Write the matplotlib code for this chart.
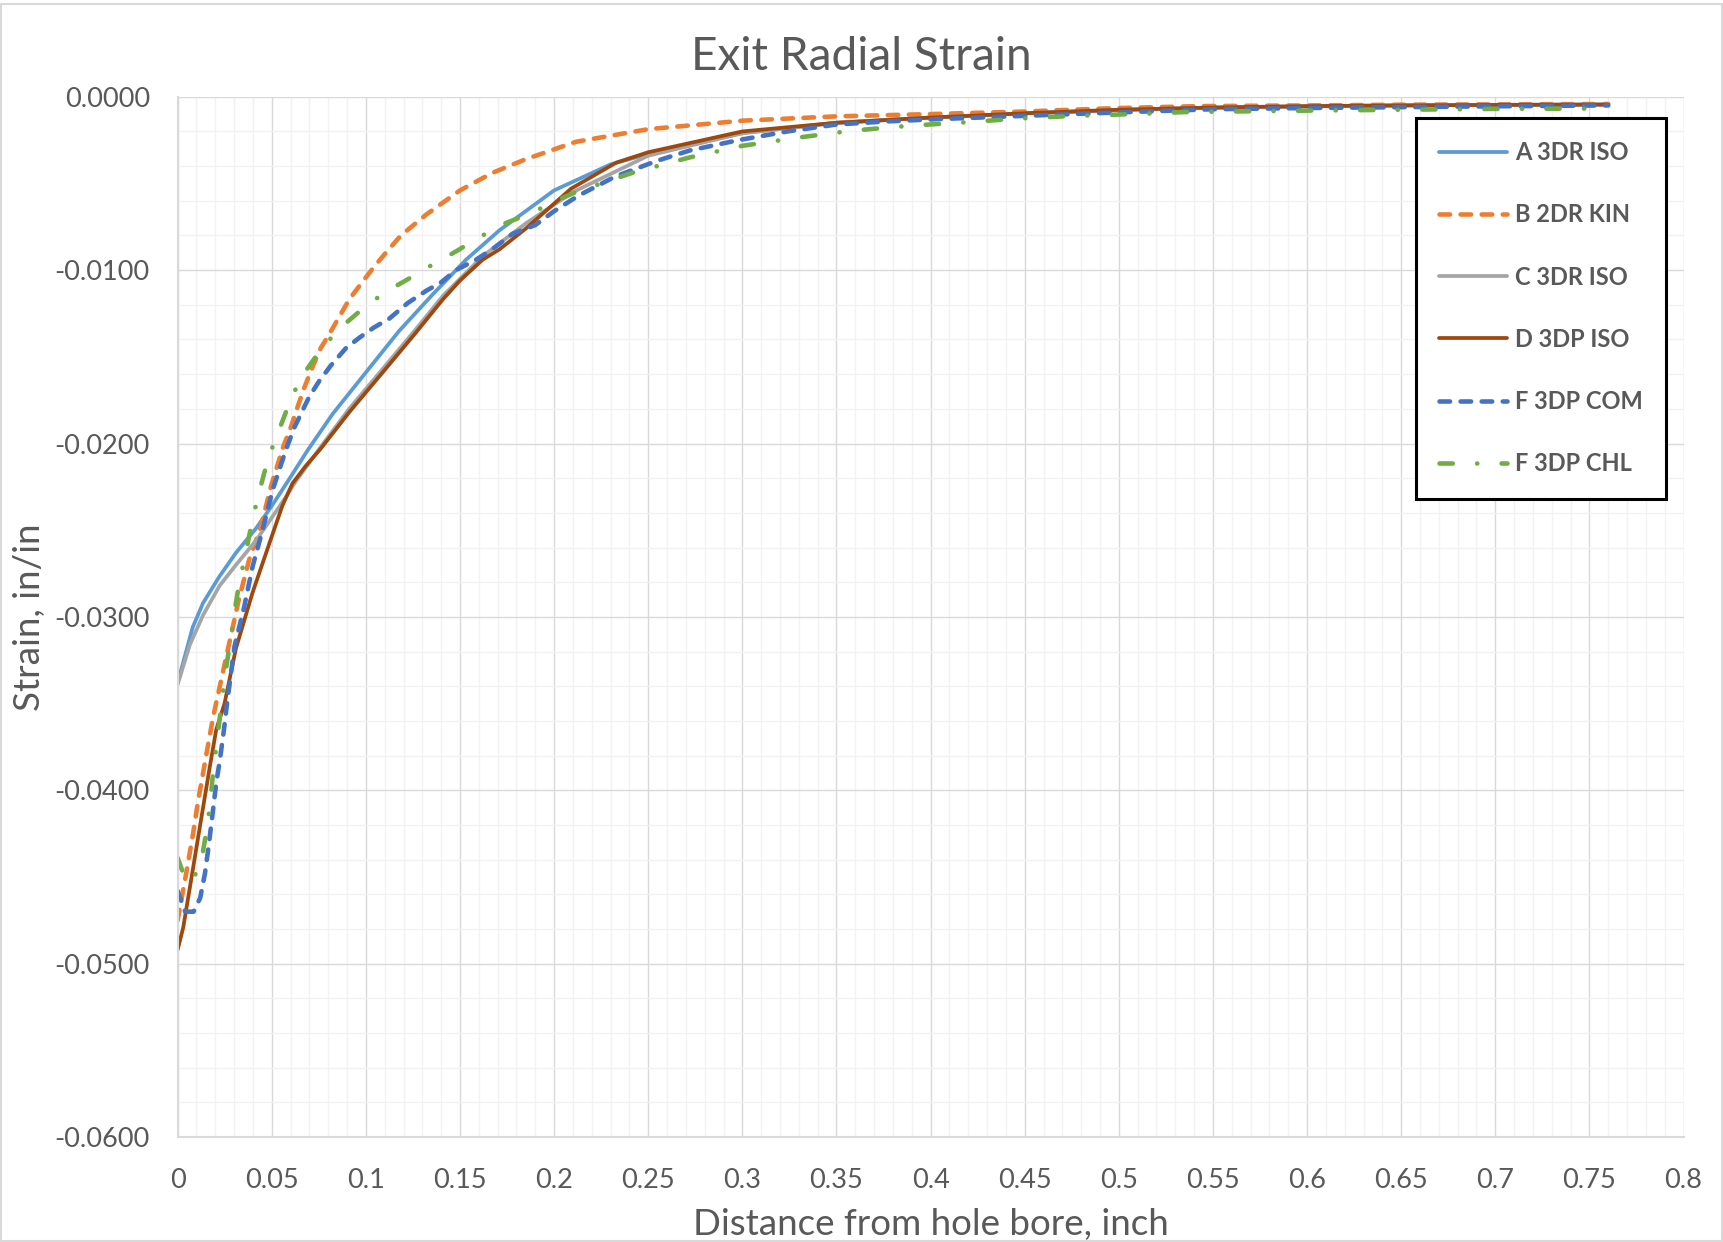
import matplotlib
matplotlib.use("Agg")
import matplotlib.pyplot as plt
from matplotlib.ticker import MultipleLocator, FormatStrFormatter, FuncFormatter
from matplotlib.patches import Rectangle

plt.rcParams["font.family"] = ["Lato", "DejaVu Sans"]
plt.rcParams["axes.unicode_minus"] = False

# values
tail_x = [0.35, 0.4, 0.45, 0.5, 0.55, 0.6, 0.65, 0.7, 0.76]

a_x = [0, 0.003, 0.008, 0.0135, 0.022, 0.031, 0.0416, 0.05, 0.059, 0.069,
       0.0823, 0.1, 0.1177, 0.1355, 0.1532, 0.171, 0.2, 0.23, 0.25, 0.3] + tail_x
a_y = [-0.0338, -0.0326, -0.0306, -0.0292, -0.0277, -0.0263, -0.0249, -0.0236,
       -0.0221, -0.0204, -0.0183, -0.0159, -0.0135, -0.0114, -0.0094, -0.0077,
       -0.0054, -0.0039, -0.0033, -0.0021,
       -0.0015, -0.0012, -0.00096, -0.00077, -0.00064, -0.00056, -0.0005,
       -0.00047, -0.00045]

b_x = [0, 0.002, 0.0042, 0.0082, 0.0109, 0.0132, 0.0153, 0.0188, 0.0232,
       0.0325, 0.038, 0.0442, 0.0495, 0.0557, 0.06, 0.0637, 0.0672, 0.0716,
       0.076, 0.0805, 0.0858, 0.0911, 0.0973, 0.1044, 0.1106, 0.1186, 0.132,
       0.15, 0.167, 0.185, 0.2115, 0.25, 0.3, 0.35, 0.4, 0.45, 0.5, 0.543,
       0.6, 0.65, 0.7, 0.76]
b_y = [-0.0475, -0.0463, -0.045, -0.0425, -0.0406, -0.0392, -0.0379, -0.0358,
       -0.0336, -0.029, -0.0267, -0.0248, -0.0225, -0.0203, -0.0191, -0.0179,
       -0.0168, -0.0156, -0.0145, -0.0137, -0.0127, -0.0117, -0.0108, -0.0098,
       -0.009, -0.008, -0.0068, -0.0054, -0.0044, -0.0036, -0.0026, -0.00187,
       -0.00138, -0.00113, -0.001, -0.00085, -0.00065, -0.00054, -0.0005,
       -0.00046, -0.00044, -0.00042]

c_x = [0, 0.0065, 0.0135, 0.0223, 0.031, 0.0416, 0.0486, 0.0574, 0.0626,
       0.076, 0.0911, 0.1089, 0.1266, 0.1408, 0.15, 0.162, 0.185, 0.21, 0.25,
       0.3] + tail_x
c_y = [-0.0339, -0.0316, -0.0299, -0.0282, -0.027, -0.0256, -0.0245, -0.0231,
       -0.0222, -0.0202, -0.018, -0.0157, -0.0134, -0.0115, -0.0105, -0.0092,
       -0.0073, -0.0055, -0.0034, -0.0021,
       -0.0015, -0.0012, -0.00095, -0.00076, -0.00063, -0.00055, -0.0005,
       -0.00047, -0.00045]

d_x = [0, 0.003, 0.0065, 0.01, 0.0135, 0.017, 0.0205, 0.0249, 0.031, 0.0398,
       0.0486, 0.0556, 0.061, 0.068, 0.076, 0.0911, 0.1089, 0.1266, 0.1408,
       0.15, 0.162, 0.171, 0.185, 0.209, 0.233, 0.25, 0.3] + tail_x
d_y = [-0.0492, -0.0479, -0.0456, -0.0433, -0.041, -0.0387, -0.0365, -0.035,
       -0.0318, -0.0286, -0.0258, -0.0236, -0.0223, -0.0213, -0.0203, -0.0182,
       -0.0159, -0.0136, -0.0117, -0.0106, -0.0094, -0.0088, -0.0076, -0.0053,
       -0.0038, -0.0032, -0.002,
       -0.0015, -0.0012, -0.00095, -0.00075, -0.00062, -0.00054, -0.0005,
       -0.00047, -0.00045]

com_x = [0, 0.004, 0.0085, 0.012, 0.0145, 0.0165, 0.0185, 0.0205, 0.0225,
         0.0245, 0.026, 0.0302, 0.0354, 0.0398, 0.0451, 0.0504, 0.0574, 0.0619,
         0.0699, 0.0752, 0.0814, 0.0894, 0.0965, 0.1044, 0.1124, 0.1222,
         0.1319, 0.14, 0.1479, 0.1585, 0.1683, 0.178, 0.19, 0.2, 0.213, 0.2325,
         0.2545, 0.272, 0.298, 0.324, 0.35, 0.377, 0.404, 0.45, 0.5, 0.55, 0.6,
         0.65, 0.7, 0.76]
com_y = [-0.0458, -0.047, -0.047, -0.0462, -0.0448, -0.0432, -0.0414, -0.0396,
         -0.0382, -0.0366, -0.0352, -0.0317, -0.0294, -0.0271, -0.025, -0.0227,
         -0.0204, -0.0191, -0.0173, -0.0164, -0.0155, -0.0145, -0.0139,
         -0.0133, -0.0128, -0.0119, -0.0112, -0.0107, -0.01, -0.0094, -0.0087,
         -0.0079, -0.0074, -0.0066, -0.0057, -0.0046, -0.0037, -0.0031,
         -0.0025, -0.002, -0.0016, -0.00142, -0.00129, -0.0011, -0.0009,
         -0.00072, -0.00065, -0.0006, -0.00055, -0.0005]

chl_x = [0, 0.003, 0.0079, 0.013, 0.0156, 0.0174, 0.0188, 0.0205, 0.0223,
         0.024, 0.0261, 0.0284, 0.0305, 0.0328, 0.036, 0.039, 0.0421, 0.046,
         0.0504, 0.0557, 0.061, 0.0681, 0.0766, 0.0867, 0.0975, 0.1098, 0.1227,
         0.1351, 0.1482, 0.1603, 0.174, 0.188, 0.201, 0.2115, 0.242, 0.272, 0.3,
         0.33, 0.358, 0.389, 0.4175, 0.448, 0.477, 0.508, 0.536, 0.6, 0.65,
         0.7, 0.76]
chl_y = [-0.0439, -0.0448, -0.0453, -0.0438, -0.0422, -0.0406, -0.039,
         -0.0375, -0.0359, -0.0344, -0.0327, -0.0311, -0.0295, -0.028, -0.0264,
         -0.0248, -0.0233, -0.0217, -0.0202, -0.0187, -0.0172, -0.0158,
         -0.0145, -0.0133, -0.0123, -0.0113, -0.0105, -0.0097, -0.0089,
         -0.0081, -0.0073, -0.0067, -0.006, -0.0055, -0.00437, -0.0035,
         -0.00283, -0.00235, -0.00196, -0.00167, -0.00148, -0.00125, -0.0011,
         -0.001, -0.00088, -0.0008, -0.00075, -0.0007, -0.00068]

labels = ["A 3DR ISO", "B 2DR KIN", "C 3DR ISO", "D 3DP ISO", "F 3DP COM", "F 3DP CHL"]
colors = ["#5B9BD5", "#ED7D31", "#A5A5A5", "#9E480E", "#4472C4", "#70AD47"]

text_col = "#595959"

fig = plt.figure(figsize=(17.23, 12.42), dpi=100)
ax = fig.add_axes([0.1031, 0.0845, 0.874, 0.8376])

ax.plot(a_x, a_y, color=colors[0], lw=2.7, label=labels[0], solid_capstyle="round", solid_joinstyle="round")
ax.plot(b_x, b_y, color=colors[1], lw=3.3, dashes=(2.3, 2.3), dash_capstyle="round", dash_joinstyle="round", label=labels[1])
ax.plot(c_x, c_y, color=colors[2], lw=2.7, label=labels[2], solid_capstyle="round", solid_joinstyle="round")
ax.plot(d_x, d_y, color=colors[3], lw=2.7, label=labels[3], solid_capstyle="round", solid_joinstyle="round")
ax.plot(com_x, com_y, color=colors[4], lw=3.3, dashes=(2.3, 2.3), dash_capstyle="round", dash_joinstyle="round", label=labels[4])
ax.plot(chl_x, chl_y, color=colors[5], lw=3.3, dashes=(2.9, 5.3, 0.05, 5.3), dash_capstyle="round", dash_joinstyle="round", label=labels[5])

ax.set_xlim(0, 0.8)
ax.set_ylim(-0.06, 0)
ax.xaxis.set_major_locator(MultipleLocator(0.05))
ax.xaxis.set_minor_locator(MultipleLocator(0.01))
ax.yaxis.set_major_locator(MultipleLocator(0.01))
ax.yaxis.set_minor_locator(MultipleLocator(0.002))
ax.yaxis.set_major_formatter(FormatStrFormatter("%.4f"))
ax.xaxis.set_major_formatter(FuncFormatter(lambda v, p: ("%.2f" % v).rstrip("0").rstrip(".")))

ax.grid(which="major", color="#D9D9D9", lw=1.0)
ax.grid(which="minor", color="#F2F2F2", lw=1.0)
ax.set_axisbelow(True)

for s in ["top", "right"]:
    ax.spines[s].set_visible(False)
for s in ["left", "bottom"]:
    ax.spines[s].set_color("#D9D9D9")
    ax.spines[s].set_linewidth(1.5)

ax.tick_params(which="both", length=0, labelsize=19.5, labelcolor=text_col)
ax.tick_params(axis="y", pad=20)
ax.tick_params(axis="x", pad=22)

fig.text(0.5, 1 - 57 / 1242, "Exit Radial Strain", ha="center", va="center",
         fontsize=33, color=text_col)
fig.text(930.6 / 1723, 1 - 1224.5 / 1242, "Distance from hole bore, inch",
         ha="center", va="center", fontsize=26.5, color=text_col)
fig.text(30 / 1723, 1 - 617 / 1242, "Strain, in/in", rotation=90,
         ha="center", va="center", fontsize=26.5, color=text_col)

leg = ax.legend(loc="upper right", bbox_to_anchor=(0.9886, 0.980), borderaxespad=0,
                prop={"weight": "bold", "size": 17}, labelcolor=text_col,
                handlelength=2.85, handletextpad=0.35, labelspacing=1.66,
                borderpad=1.0, fancybox=False, edgecolor="black", framealpha=1)
leg.get_frame().set_linewidth(2.2)

fig.patches.append(Rectangle((0.0008, 0.001), 0.9984, 0.996, transform=fig.transFigure,
                             fill=False, edgecolor="#D9D9D9", lw=1.5))

fig.savefig("out.png", dpi=100)
